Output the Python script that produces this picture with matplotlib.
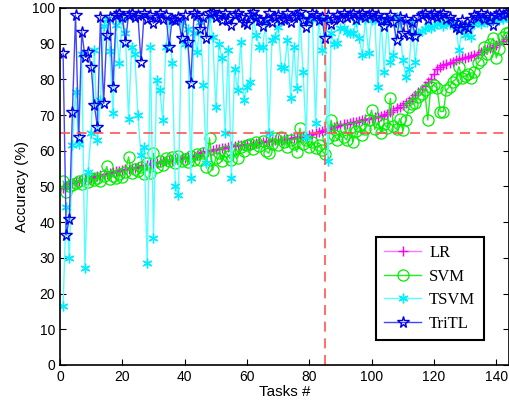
import matplotlib.pyplot as plt
import numpy as np

plt.rcParams['font.family'] = 'Liberation Sans'

# accuracy (%) per task, tasks sorted by LR accuracy
lr = [49.5, 50.2, 50.8, 51.0, 51.3, 51.5, 51.8, 52.0, 52.2, 52.4,
      52.7, 53.0, 53.2, 53.4, 53.6, 53.8, 54.0, 54.2, 54.4, 54.6,
      54.8, 55.0, 55.2, 55.3, 55.5, 55.7, 55.9, 56.1, 56.3, 56.5,
      56.6, 56.8, 57.0, 57.1, 57.3, 57.5, 57.6, 57.8, 57.9, 58.0,
      58.2, 58.3, 58.4, 58.8, 59.3, 59.6, 59.8, 60.0, 60.2, 60.4,
      60.6, 60.8, 60.9, 61.0, 61.2, 61.3, 61.5, 61.6, 61.7, 61.8,
      61.9, 62.0, 62.2, 62.3, 62.5, 62.6, 62.7, 62.8, 62.9, 63.0,
      63.1, 63.2, 63.4, 63.5, 63.6, 63.8, 63.9, 64.1, 64.3, 64.5,
      64.7, 65.0, 65.3, 65.5, 65.8, 66.1, 66.4, 66.7, 67.0, 67.2,
      67.4, 67.6, 67.8, 68.0, 68.2, 68.4, 68.6, 68.8, 69.0, 69.2,
      69.4, 69.5, 69.7, 70.0, 70.4, 70.9, 71.4, 71.9, 72.4, 72.9,
      73.3, 74.0, 74.8, 75.7, 76.5, 77.3, 78.2, 79.2, 80.2, 81.5,
      83.0, 83.6, 84.0, 84.4, 84.7, 85.0, 85.3, 85.6, 85.9, 86.1,
      86.3, 86.5, 86.8, 87.2, 87.7, 88.1, 88.4, 88.8, 89.2, 89.7,
      90.2, 90.7, 91.3, 92.0]

svm = [51.5, 48.5, 50.0, 50.5, 51.0, 51.5, 50.8, 52.0, 51.3, 52.3,
       51.8, 52.5, 51.6, 52.8, 55.6, 52.0, 53.0, 52.4, 53.5, 52.7,
       54.0, 58.3, 53.8, 55.0, 54.2, 55.5, 53.5, 56.5, 53.8, 59.3,
       55.5, 57.0, 56.0, 58.0, 57.2, 58.3, 56.5, 58.5, 57.0, 57.8,
       56.8, 58.5, 57.4, 59.0, 57.4, 59.5, 55.5, 63.6, 54.6, 58.0,
       59.5, 57.0, 60.0, 58.5, 57.4, 60.5, 58.0, 61.0, 60.0, 61.5,
       62.0, 60.5, 62.5, 61.2, 62.8, 60.0, 59.3, 62.0, 63.5, 61.5,
       63.9, 62.5, 61.0, 63.0, 62.0, 59.7, 66.3, 62.0, 63.0, 61.0,
       62.5, 60.8, 61.5, 60.2, 59.0, 63.5, 68.6, 64.5, 63.0, 66.0,
       64.0, 63.0, 66.5, 62.5, 65.5, 67.0, 64.5, 66.0, 68.5, 71.4,
       66.0, 68.0, 64.9, 67.5, 66.5, 74.7, 67.0, 66.0, 69.0, 65.8,
       68.5, 72.3, 73.0, 73.5, 75.2, 76.0, 77.0, 68.6, 78.0, 78.4,
       77.5, 71.0, 71.0, 77.0, 78.0, 79.4, 80.0, 83.6, 80.5, 81.0,
       81.5, 80.4, 82.0, 84.5, 85.5, 89.2, 87.0, 90.0, 91.5, 86.0,
       88.5, 92.0, 93.0, 93.4]

tsvm = [16.5, 44.3, 29.9, 61.6, 76.6, 62.0, 87.0, 27.1, 54.0, 65.0,
        88.2, 63.0, 74.2, 95.0, 97.0, 88.0, 70.5, 95.2, 84.5, 97.0,
        93.0, 69.0, 89.2, 87.0, 70.0, 58.8, 61.0, 28.5, 89.2, 35.5,
        79.8, 77.0, 68.6, 89.2, 97.0, 84.5, 50.0, 47.6, 96.0, 90.0,
        94.0, 52.3, 93.0, 87.8, 96.0, 78.4, 56.5, 97.6, 92.0, 72.3,
        90.0, 85.9, 64.9, 88.2, 52.3, 83.0, 77.0, 90.6, 74.2, 78.0,
        79.4, 97.6, 92.4, 89.2, 89.0, 96.0, 64.9, 91.0, 92.0, 94.8,
        83.6, 83.3, 91.0, 74.7, 89.2, 77.5, 97.6, 82.2, 64.0, 97.0,
        97.0, 67.7, 97.0, 88.2, 97.0, 57.0, 92.9, 90.0, 90.2, 94.3,
        94.5, 93.4, 92.9, 93.0, 96.0, 91.5, 86.8, 97.0, 87.3, 96.5,
        97.0, 78.0, 97.0, 82.2, 96.0, 85.0, 86.8, 97.5, 96.0, 85.4,
        80.8, 83.0, 96.0, 85.0, 93.0, 93.5, 94.0, 95.0, 94.5, 95.0,
        95.5, 96.0, 95.0, 96.0, 95.5, 96.0, 95.0, 88.2, 94.0, 92.4,
        95.0, 92.0, 95.5, 96.0, 95.5, 96.5, 96.0, 97.0, 96.5, 97.0,
        96.5, 97.0, 97.5, 97.0]

tritl = [87.3, 36.4, 41.0, 71.0, 98.0, 64.0, 93.4, 86.4, 87.8, 83.6,
         72.8, 66.8, 97.6, 73.3, 92.4, 97.5, 78.0, 98.0, 98.5, 97.5,
         90.6, 98.0, 98.5, 97.5, 98.0, 85.0, 98.5, 97.0, 98.0, 95.7,
         97.5, 98.5, 97.0, 98.0, 89.2, 97.0, 96.5, 97.5, 91.5, 98.0,
         90.6, 79.0, 98.5, 98.0, 94.0, 97.5, 91.5, 98.5, 99.0, 97.5,
         98.0, 96.5, 98.5, 97.0, 95.2, 98.0, 98.5, 97.5, 96.0, 95.5,
         98.0, 99.0, 97.5, 96.5, 95.0, 97.0, 98.5, 96.0, 97.5, 98.0,
         96.5, 97.0, 98.5, 96.0, 97.5, 98.0, 99.0, 96.5, 94.8, 97.0,
         98.5, 98.0, 96.5, 97.5, 91.5, 98.0, 95.5, 97.0, 98.0, 97.1,
         98.5, 97.5, 98.0, 98.5, 97.0, 98.0, 98.5, 97.5, 98.0, 98.5,
         97.5, 98.0, 96.5, 95.0, 97.0, 98.0, 96.0, 91.0, 97.5, 93.0,
         97.0, 92.4, 96.0, 92.2, 97.5, 98.0, 98.5, 97.0, 98.0, 98.5,
         97.5, 98.0, 98.5, 97.0, 97.5, 96.0, 94.8, 94.0, 96.5, 95.0,
         94.5, 97.0, 98.0, 97.5, 98.5, 97.0, 98.0, 97.5, 95.2, 98.0,
         98.5, 98.0, 98.5, 99.0]

tasks = np.arange(1, len(lr) + 1)
cut_task = 85
cut_acc = 65

fig = plt.figure(figsize=(5.1, 4.05), dpi=100)
ax = fig.add_axes([0.1176, 0.0988, 0.880, 0.8815])

ax.plot(tasks, lr, '-', color='#ff77ff', marker='+', mec='#ff00ff', ms=7, mew=1, lw=1, label='LR')
ax.plot(tasks, svm, '-', color='#22ee22', marker='o', mec='#00ee00', mfc='none', ms=8, mew=0.9, lw=1, label='SVM')
ax.plot(tasks, tsvm, '-', color='#55ffff', marker=(6, 2, 0), mec='#00eeff', ms=7, mew=1, lw=1, label='TSVM')
ax.plot(tasks, tritl, '-', color='#4444ff', marker='*', mec='#0000ee', mfc='none', ms=8.5, mew=1, lw=1, label='TriTL')

ax.axhline(cut_acc, color='#ff5555', ls=(0, (6, 4)), lw=1.2)
ax.axvline(cut_task, color='#ff5555', ls=(0, (6, 4)), lw=1.2)

ax.set_xlim(0, 144)
ax.set_ylim(0, 100)
ax.set_xticks(range(0, 141, 20))
ax.set_yticks(range(0, 101, 10))
ax.tick_params(direction='in', labelsize=10, top=False, right=True, length=4)
ax.set_xlabel('Tasks #', fontsize=11, labelpad=1)
ax.set_ylabel('Accuracy (%)', fontsize=11, labelpad=2)
for s in ax.spines.values():
    s.set_linewidth(1.2)

leg = ax.legend(loc='lower right', bbox_to_anchor=(0.944, 0.07), borderaxespad=0,
                fancybox=False, edgecolor='black', framealpha=1, handlelength=2.2,
                prop={'family': 'Liberation Serif', 'size': 12}, borderpad=0.5,
                labelspacing=0.45, handletextpad=0.5)
leg.get_frame().set_linewidth(1.5)

plt.savefig('out.png', dpi=100)
